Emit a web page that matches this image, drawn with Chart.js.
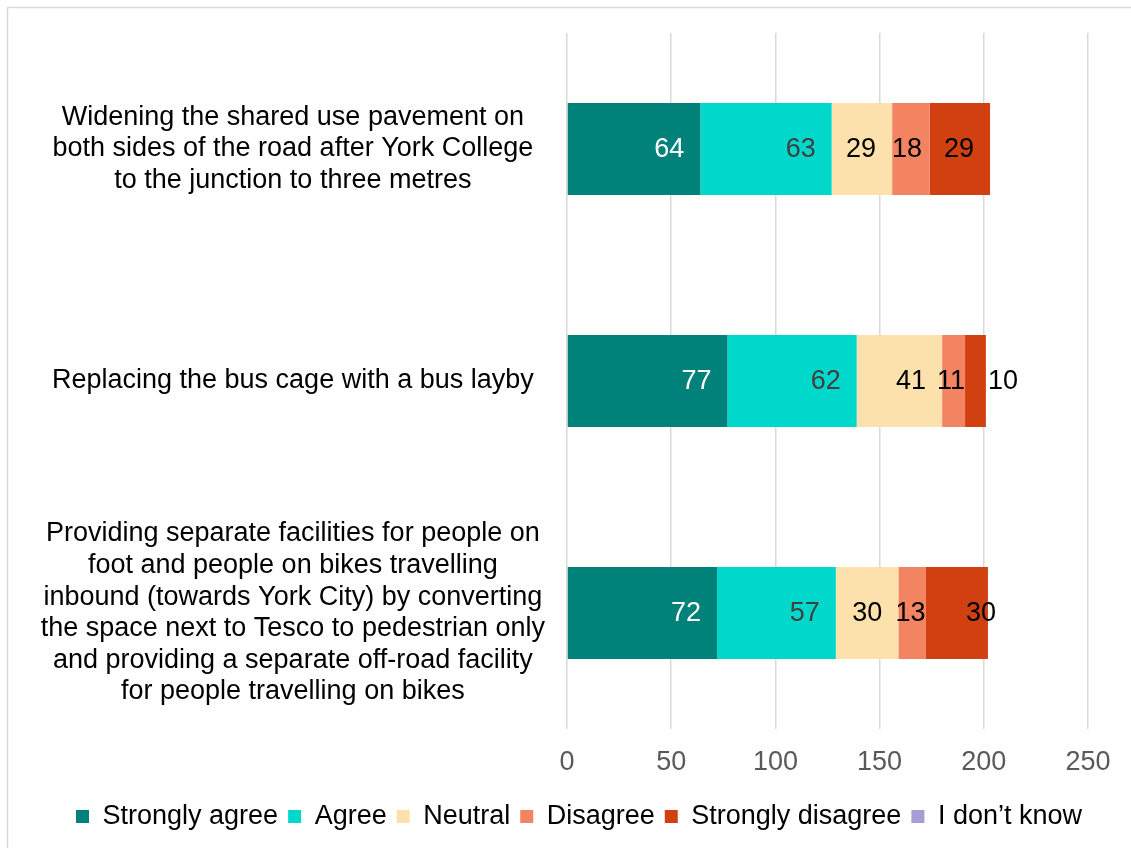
<!DOCTYPE html>
<html>
<head>
<meta charset="utf-8">
<script src="https://cdn.jsdelivr.net/npm/chart.js@4.4.1/dist/chart.umd.min.js"></script>
<style>
  html, body { margin: 0; padding: 0; background: #fff; }
  #wrap { position: relative; width: 1131px; height: 848px; }
</style>
</head>
<body>
<div id="wrap"><canvas id="myChart"></canvas></div>
<script>
// survey answers, one entry per question (top to bottom)
const questions = [
  ['Widening the shared use pavement on', 'both sides of the road after York College', 'to the junction to three metres'],
  ['Replacing the bus cage with a bus layby'],
  ['Providing separate facilities for people on', 'foot and people on bikes travelling', 'inbound (towards York City) by converting', 'the space next to Tesco to pedestrian only', 'and providing a separate off-road facility', 'for people travelling on bikes']
];
const stronglyAgree = [64, 77, 72];
const agree = [63, 62, 57];
const neutral = [29, 41, 30];
const disagree = [18, 11, 13];
const stronglyDisagree = [29, 10, 30];
const dontKnow = [0, 0, 0];
const xTicks = [0, 50, 100, 150, 200, 250];

const FONT = '"Liberation Sans", Arial, sans-serif';
Chart.defaults.font.family = FONT;
Chart.defaults.font.size = 27;

const series = [
  { label: 'Strongly agree', data: stronglyAgree, color: '#00827a', text: '#ffffff' },
  { label: 'Agree', data: agree, color: '#00d8cc', text: '#404040' },
  { label: 'Neutral', data: neutral, color: '#fde1ad', text: '#000000' },
  { label: 'Disagree', data: disagree, color: '#f28462', text: '#000000' },
  { label: 'Strongly disagree', data: stronglyDisagree, color: '#d14011', text: '#000000' },
  { label: 'I don\u2019t know', data: dontKnow, color: '#a59dd4', text: '#000000' }
];

// chart frame (only top/left edges are visible in the original)
const framePlugin = {
  id: 'frame',
  beforeDraw(chart) {
    const ctx = chart.ctx;
    ctx.save();
    ctx.fillStyle = '#fff';
    ctx.fillRect(0, 0, chart.width, chart.height);
    ctx.strokeStyle = '#d9d9d9';
    ctx.lineWidth = 1.5;
    ctx.strokeRect(7.5, 7.5, chart.width + 20, chart.height + 20);
    ctx.restore();
  }
};

// value labels, placed near the inner end of each segment like Excel does
const valueLabels = {
  id: 'valueLabels',
  afterDatasetsDraw(chart, args, opts) {
    const ctx = chart.ctx;
    ctx.save();
    ctx.font = '27px ' + FONT;
    ctx.textBaseline = 'middle';
    chart.data.datasets.forEach((ds, di) => {
      const meta = chart.getDatasetMeta(di);
      if (meta.hidden) return;
      meta.data.forEach((bar, i) => {
        const v = ds.data[i];
        if (!v) return;
        const txt = String(v);
        const tw = ctx.measureText(txt).width;
        const start = Math.min(bar.base, bar.x);
        const end = Math.max(bar.base, bar.x);
        let isLast = true;
        for (let k = di + 1; k < chart.data.datasets.length; k++) {
          if (chart.data.datasets[k].data[i]) isLast = false;
        }
        let right;
        if (tw > end - start && isLast) {
          right = end + 2 + tw;
        } else {
          right = Math.min(Math.max(end - 16, start + tw), end);
        }
        const nudge = (opts.nudge || []).find(n => n.ds === di && n.i === i);
        if (nudge) right += nudge.dx;
        ctx.fillStyle = series[di].text;
        ctx.textAlign = 'right';
        ctx.fillText(txt, right, bar.y + 1);
      });
    });
    ctx.restore();
  }
};

const chartEl = document.getElementById('myChart');
const myChart = new Chart(chartEl, {
  type: 'bar',
  data: {
    labels: questions,
    datasets: series.map(s => ({
      label: s.label,
      data: s.data,
      backgroundColor: s.color,
      borderWidth: 0,
      categoryPercentage: 1,
      barPercentage: 0.397
    }))
  },
  options: {
    indexAxis: 'y',
    responsive: true,
    maintainAspectRatio: false,
    animation: false,
    layout: { padding: { top: 33, left: 37, right: 10, bottom: 8 } },
    scales: {
      x: {
        stacked: true,
        min: 0,
        max: 250,
        afterBuildTicks: (scale) => { scale.ticks = xTicks.map(v => ({ value: v })); },
        afterFit: (scale) => { scale.height = 64; scale.paddingRight = 43; },
        grid: { color: '#d9d9d9', lineWidth: 1.5, drawTicks: false },
        border: { display: false },
        ticks: { color: '#595959', padding: 17, font: { size: 27 } }
      },
      y: {
        stacked: true,
        afterFit: (scale) => { scale.width = 530; scale.paddingTop = 0; scale.paddingBottom = 0; },
        grid: { display: false, drawTicks: false },
        border: { display: false },
        ticks: {
          color: '#000',
          crossAlign: 'center',
          padding: 22,
          autoSkip: false,
          font: { size: 27, lineHeight: 1.17 }
        }
      }
    },
    plugins: {
      legend: {
        position: 'bottom',
        labels: {
          boxWidth: 13,
          boxHeight: 13,
          padding: 10,
          color: '#000',
          font: { size: 27 }
        }
      },
      tooltip: { enabled: false },
      valueLabels: { nudge: [{ ds: 4, i: 2, dx: 24 }] }
    }
  },
  plugins: [framePlugin, valueLabels]
});
</script>
</body>
</html>
